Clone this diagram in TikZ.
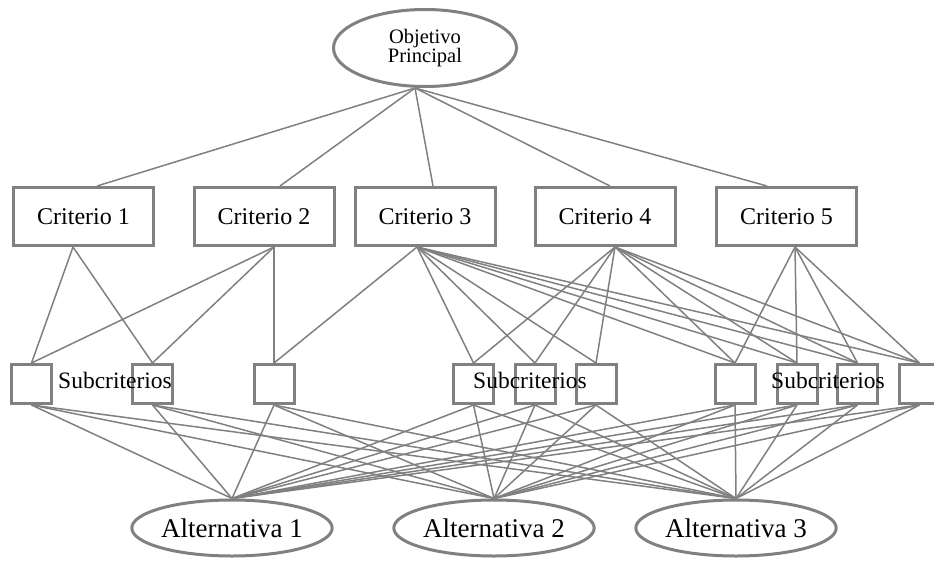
\documentclass[tikz,border=0pt]{standalone}
\usepackage{fontspec}
\setmainfont{Liberation Serif}
\usetikzlibrary{shapes.geometric}
\definecolor{gris}{RGB}{128,128,128}
\begin{document}
\begin{tikzpicture}[x=1pt,y=-1pt,
    linea/.style={draw=gris,line width=1.5pt},
    criterio/.style={draw=gris,line width=3pt,minimum width=140pt,minimum height=58pt,inner sep=0pt,font=\fontsize{24}{28}\selectfont},
    subcrit/.style={draw=gris,line width=3pt,minimum width=40pt,minimum height=39pt,inner sep=0pt},
    alternativa/.style={draw=gris,line width=3pt,ellipse,minimum width=198pt,minimum height=56pt,inner sep=0pt,font=\fontsize{27}{30}\selectfont}]
  \useasboundingbox (0,0) rectangle (934,560);
  % objetivo
  \node[draw=gris,line width=3pt,ellipse,minimum width=183pt,minimum height=77pt,inner sep=0pt,align=center,font=\fontsize{20.5}{19}\selectfont] (obj) at (425,48) {Objetivo\\Principal};
  % criterios
  \node[criterio] (c1) at (83.5,216.5) {Criterio 1};
  \node[criterio] (c2) at (264,216.5) {Criterio 2};
  \node[criterio] (c3) at (425,216.5) {Criterio 3};
  \node[criterio] (c4) at (605,216.5) {Criterio 4};
  \node[criterio] (c5) at (786.5,216.5) {Criterio 5};
  % subcriterios
  \foreach \n/\x in {1/31.5,2/152.5,3/274,4/473.5,5/535,6/596,7/735,8/797,9/857.5,10/919.5}
    \node[subcrit] (s\n) at (\x,384) {};
  \node[font=\fontsize{23.5}{28}\selectfont] (t1) at (115,380) {Subcriterios};
  \node[font=\fontsize{23.5}{28}\selectfont] (t2) at (530,380) {Subcriterios};
  \node[font=\fontsize{23.5}{28}\selectfont] (t3) at (828,380) {Subcriterios};
  % alternativas
  \node[alternativa] (a1) at (232,528) {Alternativa 1};
  \node[alternativa] (a2) at (494,528) {Alternativa 2};
  \node[alternativa] (a3) at (736,528) {Alternativa 3};
  % puntos de union
  \coordinate (o) at ([xshift=-10pt]obj.south);
  \coordinate (c1b) at ([xshift=-10.5pt]c1.south);
  \coordinate (c2b) at ([xshift=10pt]c2.south);
  \coordinate (c3b) at ([xshift=-8pt]c3.south);
  \coordinate (c4b) at ([xshift=10pt]c4.south);
  \coordinate (c5b) at ([xshift=8.5pt]c5.south);
  % lineas
  \foreach \c/\dx in {c1/13.5,c2/16,c3/8,c4/5,c5/-19.5}
    \draw[linea] (o) -- ([xshift=\dx pt]\c.north);
  \foreach \s in {1,2} \draw[linea] (c1b) -- (s\s.north);
  \foreach \s in {1,2,3} \draw[linea] (c2b) -- (s\s.north);
  \foreach \s in {3,...,10} \draw[linea] (c3b) -- (s\s.north);
  \foreach \s in {4,...,10} \draw[linea] (c4b) -- (s\s.north);
  \foreach \s in {7,...,10} \draw[linea] (c5b) -- (s\s.north);
  \foreach \s in {1,...,10}
    \foreach \a in {1,2,3}
      \draw[linea] (s\s.south) -- (a\a.north);
\end{tikzpicture}
\end{document}
